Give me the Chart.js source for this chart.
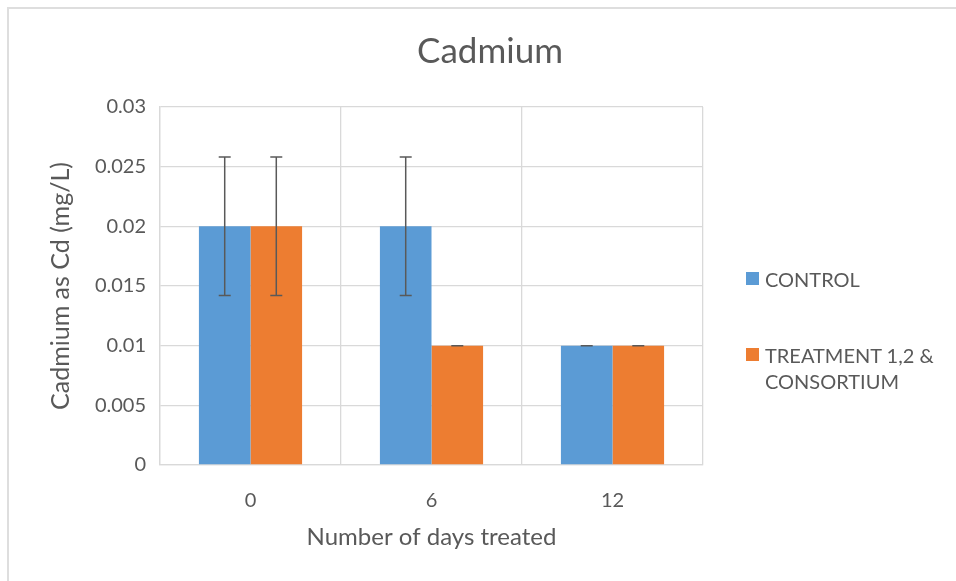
<!DOCTYPE html>
<html>
<head>
<meta charset="utf-8">
<script src="https://cdn.jsdelivr.net/npm/chart.js@4/dist/chart.umd.min.js"></script>
<style>
  html, body { margin: 0; padding: 0; background: #fff; overflow: hidden; }
  #wrap { position: relative; width: 956px; height: 581px; }
  #frame { position: absolute; left: 7px; top: 7px; width: 1000px; height: 1000px;
           border-top: 2px solid #dedede; border-left: 2px solid #dedede; pointer-events: none; }
  #legend { position: absolute; left: 746px; top: 266px; font-family: Lato, "Open Sans", sans-serif;
            font-size: 20px; color: #595959; line-height: 26px; }
  .item { position: relative; padding-left: 19px; }
  .sw { position: absolute; left: 0; top: 6px; width: 13px; height: 13px; }
</style>
</head>
<body>
<div id="wrap">
  <canvas id="c" width="956" height="581"></canvas>
  <div id="frame"></div>
  <div id="legend"></div>
</div>
<script>
const categories = ["0", "6", "12"];
const seriesNames = ["CONTROL", ["TREATMENT 1,2 &", "CONSORTIUM"]];
const controlValues = [0.02, 0.02, 0.01];
const treatmentValues = [0.02, 0.01, 0.01];
const controlErrors = [0.0058, 0.0058, 0];
const treatmentErrors = [0.0058, 0, 0];
const yTickValues = [0, 0.005, 0.01, 0.015, 0.02, 0.025, 0.03];
const yTickLabels = ["0", "0.005", "0.01", "0.015", "0.02", "0.025", "0.03"];

const colors = ["#5B9BD5", "#ED7D31"];
const errors = [controlErrors, treatmentErrors];
const FONT = 'Lato, "Open Sans", sans-serif';
const TXT = "#595959";

const errorBars = {
  id: "errorBars",
  afterDatasetsDraw(chart) {
    const ctx = chart.ctx;
    const y = chart.scales.y;
    ctx.save();
    ctx.strokeStyle = "#595959";
    ctx.lineWidth = 1.5;
    chart.data.datasets.forEach((ds, di) => {
      const meta = chart.getDatasetMeta(di);
      meta.data.forEach((bar, i) => {
        const v = ds.data[i], e = errors[di][i];
        const x = bar.x;
        const top = y.getPixelForValue(v + e);
        const bot = y.getPixelForValue(v - e);
        ctx.beginPath();
        ctx.moveTo(x, top); ctx.lineTo(x, bot);
        ctx.moveTo(x - 6, top); ctx.lineTo(x + 6, top);
        ctx.moveTo(x - 6, bot); ctx.lineTo(x + 6, bot);
        ctx.stroke();
      });
    });
    ctx.restore();
  }
};

new Chart(document.getElementById("c"), {
  type: "bar",
  data: {
    labels: categories,
    datasets: [
      { label: "CONTROL", data: controlValues, backgroundColor: colors[0] },
      { label: "TREATMENT 1,2 & CONSORTIUM", data: treatmentValues, backgroundColor: colors[1] }
    ]
  },
  options: {
    responsive: false,
    animation: false,
    datasets: { bar: { categoryPercentage: 0.57, barPercentage: 1.0 } },
    layout: { padding: { left: 24, right: 0, top: 8, bottom: 27 } },
    plugins: {
      legend: { display: false },
      tooltip: { enabled: false },
      title: {
        display: true, text: "Cadmium", color: TXT,
        font: { family: FONT, size: 35, weight: "normal" },
        padding: { top: 23, bottom: 34 }
      }
    },
    scales: {
      x: {
        grid: { color: "#d9d9d9", offset: true, drawTicks: false, lineWidth: 1.3 },
        border: { color: "#d9d9d9", width: 1.3 },
        ticks: { color: TXT, font: { family: FONT, size: 20 }, padding: 24 },
        title: { display: true, text: "Number of days treated", color: TXT,
                 font: { family: FONT, size: 24 }, padding: { top: 8, bottom: 2 } },
        afterFit(s) { s.height = 89; }
      },
      y: {
        min: 0, max: 0.03,
        afterBuildTicks(s) { s.ticks = yTickValues.map(v => ({ value: v })); },
        grid: { color: "#d9d9d9", drawTicks: false, lineWidth: 1.3 },
        border: { color: "#d9d9d9", width: 1.3 },
        ticks: { color: TXT, font: { family: FONT, size: 20 }, padding: 14,
                 callback: (v, i) => yTickLabels[i] },
        title: { display: true, text: "Cadmium as Cd (mg/L)", color: TXT,
                 font: { family: FONT, size: 25 }, padding: { top: 22, bottom: 0 } },
        afterFit(s) { s.width = 136; }
      },
      y2: {
        position: "right", display: true, min: 0, max: 1,
        grid: { display: false, drawTicks: false }, border: { display: false },
        ticks: { display: false },
        afterFit(s) { s.width = 253; }
      }
    }
  },
  plugins: [errorBars]
});

const lg = document.getElementById("legend");
seriesNames.forEach((name, i) => {
  const d = document.createElement("div");
  d.className = "item";
  d.style.marginBottom = i === 0 ? "50px" : "0";
  const sw = document.createElement("span");
  sw.className = "sw"; sw.style.background = colors[i];
  d.appendChild(sw);
  const lines = Array.isArray(name) ? name : [name];
  lines.forEach((t, j) => {
    if (j) d.appendChild(document.createElement("br"));
    d.appendChild(document.createTextNode(t));
  });
  lg.appendChild(d);
});
</script>
</body>
</html>
